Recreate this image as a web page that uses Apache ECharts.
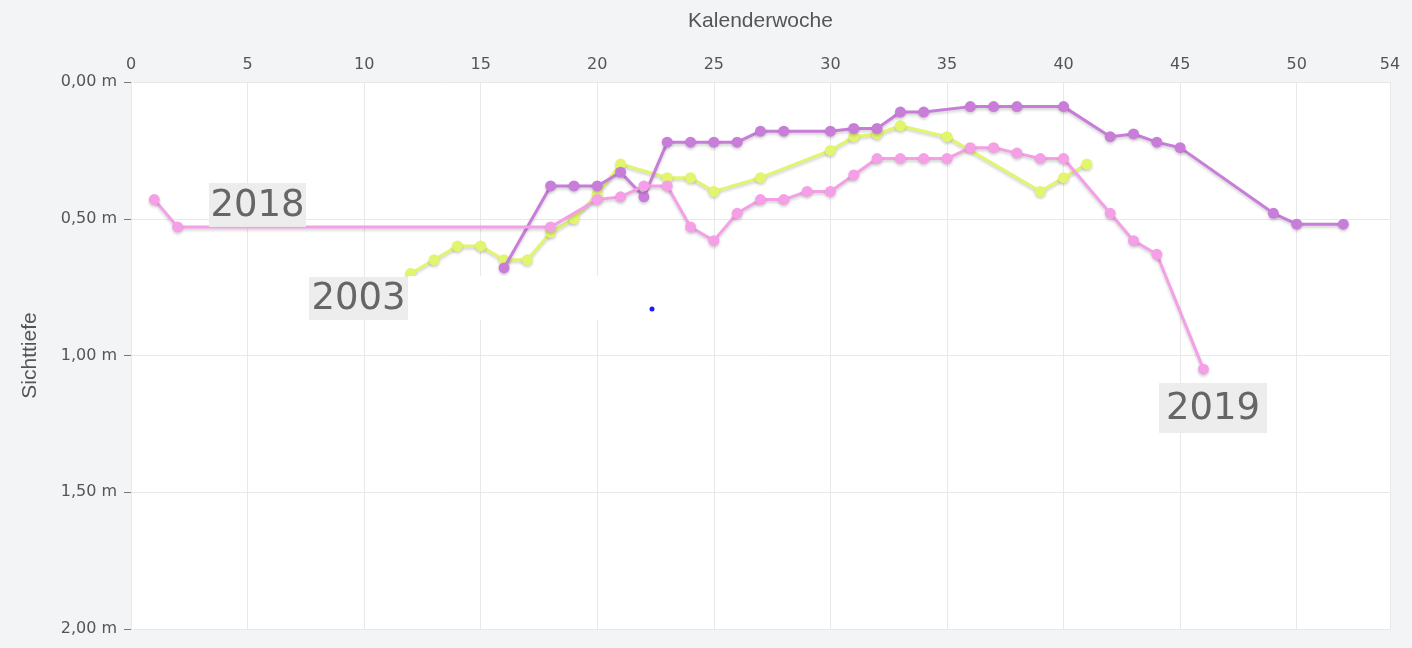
<!DOCTYPE html>
<html>
<head>
<meta charset="utf-8">
<script src="https://cdn.jsdelivr.net/npm/echarts@6/dist/echarts.min.js"></script>
<style>
  html, body { margin: 0; padding: 0; background: #f3f4f6; }
  #chart { width: 1412px; height: 648px; }
</style>
</head>
<body>
<div id="chart"></div>
<script>
// Sichttiefe je Kalenderwoche (m)
const weeks2003 = [12, 13, 14, 15, 16, 17, 18, 19, 20, 21, 23, 24, 25, 27, 30, 31, 32, 33, 35, 39, 40, 41];
const depth2003 = [0.70, 0.65, 0.60, 0.60, 0.65, 0.65, 0.55, 0.50, 0.41, 0.30, 0.35, 0.35, 0.40, 0.35, 0.25, 0.20, 0.19, 0.16, 0.20, 0.40, 0.35, 0.30];

const weeks2018 = [16, 18, 19, 20, 21, 22, 23, 24, 25, 26, 27, 28, 30, 31, 32, 33, 34, 36, 37, 38, 40, 42, 43, 44, 45, 49, 50, 52];
const depth2018 = [0.68, 0.38, 0.38, 0.38, 0.33, 0.42, 0.22, 0.22, 0.22, 0.22, 0.18, 0.18, 0.18, 0.17, 0.17, 0.11, 0.11, 0.09, 0.09, 0.09, 0.09, 0.20, 0.19, 0.22, 0.24, 0.48, 0.52, 0.52];

const weeks2019 = [1, 2, 18, 20, 21, 22, 23, 24, 25, 26, 27, 28, 29, 30, 31, 32, 33, 34, 35, 36, 37, 38, 39, 40, 42, 43, 44, 46];
const depth2019 = [0.43, 0.53, 0.53, 0.43, 0.42, 0.38, 0.38, 0.53, 0.58, 0.48, 0.43, 0.43, 0.40, 0.40, 0.34, 0.28, 0.28, 0.28, 0.28, 0.24, 0.24, 0.26, 0.28, 0.28, 0.48, 0.58, 0.63, 1.05];

const yTicks = [0, 0.5, 1, 1.5, 2];

function pairs(xs, ys) {
    return xs.map((x, i) => [x, ys[i]]);
}

function lineSeries(name, xs, ys, color, z) {
    return {
        name: name,
        type: 'line',
        z: z,
        data: pairs(xs, ys),
        symbol: 'circle',
        symbolSize: 11,
        lineStyle: {
            width: 3,
            color: color,
            shadowColor: 'rgba(0,0,0,0.18)',
            shadowBlur: 3,
            shadowOffsetY: 2
        },
        itemStyle: {
            color: color,
            shadowColor: 'rgba(0,0,0,0.18)',
            shadowBlur: 3,
            shadowOffsetY: 2
        },
        emphasis: { disabled: true }
    };
}

function yearLabel(text, x, y, w, h) {
    return [{
        type: 'rect',
        z: 50,
        shape: { x: x, y: y, width: w, height: h },
        style: { fill: 'rgba(236,236,236,0.95)' }
    }, {
        type: 'text',
        z: 51,
        x: x + w / 2,
        y: y + h / 2 + 1,
        style: {
            text: text,
            font: '37px "DejaVu Sans"',
            fill: '#666',
            align: 'center',
            verticalAlign: 'middle'
        }
    }];
}

let myEcharts = echarts.init(document.getElementById('chart'));
myEcharts.setOption({
    backgroundColor: '#f3f4f6',
    animation: false,
    grid: {
        left: 131,
        right: 22,
        top: 82,
        bottom: 19,
        containLabel: false,
        outerBoundsMode: 'none',
        show: true,
        backgroundColor: '#ffffff',
        borderWidth: 0
    },
    xAxis: {
        type: 'value',
        position: 'top',
        min: 0,
        max: 54,
        interval: 5,
        name: 'Kalenderwoche',
        nameLocation: 'middle',
        nameGap: 50,
        nameMoveOverlap: false,
        nameTextStyle: { fontFamily: 'Liberation Sans', fontSize: 21, color: '#555' },
        axisLine: { show: false },
        axisTick: { show: false },
        axisLabel: { fontFamily: 'DejaVu Sans', fontSize: 16, color: '#555', margin: 9 },
        splitLine: { show: true, lineStyle: { color: '#e8e8e8', width: 1 } }
    },
    yAxis: {
        type: 'value',
        inverse: true,
        min: yTicks[0],
        max: yTicks[yTicks.length - 1],
        interval: 0.5,
        name: 'Sichttiefe',
        nameLocation: 'middle',
        nameGap: 90,
        nameMoveOverlap: false,
        nameTextStyle: { fontFamily: 'Liberation Sans', fontSize: 21, color: '#555' },
        axisLine: { show: false },
        axisTick: { show: true, length: 7, lineStyle: { color: '#777' } },
        axisLabel: {
            fontFamily: 'DejaVu Sans',
            fontSize: 16,
            color: '#555',
            margin: 14,
            formatter: function (v) {
                return v.toFixed(2).replace('.', ',') + ' m';
            }
        },
        splitLine: { show: true, lineStyle: { color: '#e8e8e8', width: 1 } }
    },
    series: [
        lineSeries('2003', weeks2003, depth2003, '#e3f56f', 2),
        lineSeries('2018', weeks2018, depth2018, '#c87ed9', 3),
        lineSeries('2019', weeks2019, depth2019, '#f5a0e6', 4)
    ],
    graphic: [
        {
            type: 'rect',
            z: 40,
            shape: { x: 408, y: 276, width: 244, height: 44 },
            style: { fill: '#ffffff' }
        },
        {
            type: 'circle',
            z: 41,
            shape: { cx: 652, cy: 309, r: 2.5 },
            style: { fill: '#1a1aff' }
        }
    ]
        .concat(yearLabel('2018', 209, 183, 97, 44))
        .concat(yearLabel('2003', 309, 277, 99, 43))
        .concat(yearLabel('2019', 1159, 383, 108, 50))
});
</script>
</body>
</html>
